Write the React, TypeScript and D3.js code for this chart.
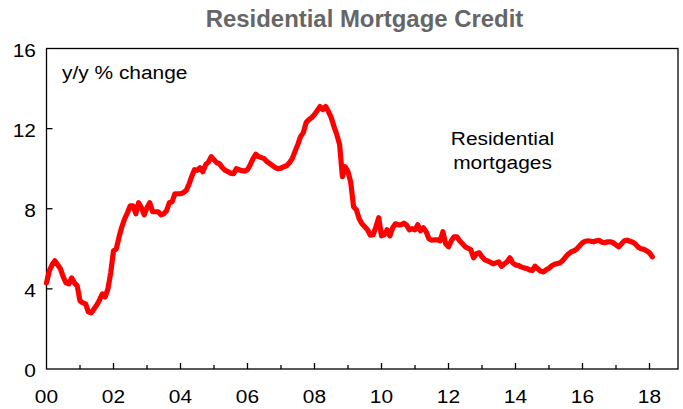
import React from "react";
import * as d3 from "d3";

const title = "Residential Mortgage Credit";
const yTicks = [0, 4, 8, 12, 16];
const xTickYears = [2000, 2002, 2004, 2006, 2008, 2010, 2012, 2014, 2016, 2018];
const startYear = 2000;
// monthly y/y % change, Jan 2000 onward
const values2000 = [4.3, 4.9, 5.2, 5.4, 5.2, 5.0, 4.6, 4.3, 4.25, 4.55, 4.3, 4.15];
const values2001 = [3.4, 3.3, 3.25, 2.85, 2.8, 3.0, 3.2, 3.45, 3.75, 3.6, 4.0, 4.8];
const values2002 = [5.9, 6.0, 6.6, 7.1, 7.5, 7.8, 8.15, 8.15, 7.75, 8.3, 8.05, 7.7];
const values2003 = [8.05, 8.3, 7.85, 7.85, 7.85, 7.7, 7.75, 7.9, 8.3, 8.35, 8.75, 8.75];
const values2004 = [8.75, 8.8, 8.9, 9.2, 9.6, 9.95, 9.92, 10.05, 9.85, 10.2, 10.33, 10.6];
const values2005 = [10.45, 10.3, 10.25, 10.05, 9.92, 9.85, 9.78, 9.75, 10.0, 9.95, 9.9, 9.88];
const values2006 = [9.95, 10.2, 10.5, 10.72, 10.6, 10.55, 10.5, 10.35, 10.25, 10.15, 10.05, 10.0];
const values2007 = [10.03, 10.1, 10.15, 10.3, 10.5, 10.85, 11.2, 11.6, 11.8, 12.3, 12.45, 12.55];
const values2008 = [12.7, 12.9, 13.1, 12.95, 13.1, 12.85, 12.55, 12.1, 11.7, 11.2, 9.6, 10.1];
const values2009 = [9.85, 9.3, 8.1, 7.95, 7.5, 7.25, 7.1, 6.95, 6.68, 6.7, 7.1, 7.55];
const values2010 = [6.65, 6.7, 6.95, 6.65, 7.05, 7.25, 7.2, 7.2, 7.28, 7.18, 6.95, 7.0];
const values2011 = [6.95, 7.2, 6.9, 7.05, 6.85, 6.5, 6.43, 6.45, 6.45, 6.4, 6.85, 6.25];
const values2012 = [6.1, 6.4, 6.6, 6.6, 6.4, 6.25, 6.1, 6.03, 5.95, 5.55, 5.75, 5.8];
const values2013 = [5.6, 5.45, 5.4, 5.33, 5.25, 5.3, 5.35, 5.13, 5.25, 5.35, 5.55, 5.3];
const values2014 = [5.2, 5.17, 5.1, 5.05, 5.02, 4.95, 4.92, 5.13, 5.0, 4.88, 4.85, 4.95];
const values2015 = [5.03, 5.15, 5.23, 5.27, 5.3, 5.43, 5.6, 5.75, 5.85, 5.9, 6.0, 6.15];
const values2016 = [6.3, 6.38, 6.4, 6.38, 6.35, 6.4, 6.42, 6.33, 6.3, 6.35, 6.35, 6.3];
const values2017 = [6.2, 6.1, 6.25, 6.4, 6.43, 6.38, 6.33, 6.23, 6.08, 6.0, 5.97, 5.9];
const values2018 = [5.8, 5.6];

const allValues = [
  ...values2000, ...values2001, ...values2002, ...values2003, ...values2004,
  ...values2005, ...values2006, ...values2007, ...values2008, ...values2009,
  ...values2010, ...values2011, ...values2012, ...values2013, ...values2014,
  ...values2015, ...values2016, ...values2017, ...values2018,
];
const data = allValues.map((v, i) => ({ t: startYear + i / 12, v }));

const W = 683;
const H = 409;
const L = 46.5, R = 678, T = 48.5, B = 369;
const FONT = "'Liberation Sans', Arial, sans-serif";
const SX = 1.1;

function Txt({ x, y, anchor = "start", size = 19, weight = "normal", fill = "#000", sx = SX, children }: any) {
  return (
    <g transform={`translate(${x},${y}) scale(${sx},1)`}>
      <text x={0} y={0} textAnchor={anchor} fontFamily={FONT} fontSize={size} fontWeight={weight} fill={fill}>{children}</text>
    </g>
  );
}

export default function App() {
  const x = d3.scaleLinear().domain([2000, 2018.85]).range([L, L + 18.85 * 33.5]);
  const y = d3.scaleLinear().domain([0, 16]).range([B, T]);
  const line = d3.line<{ t: number; v: number }>().x(d => x(d.t)).y(d => y(d.v));
  const years = d3.range(2001, 2019);
  return (
    <svg width={W} height={H} style={{ position: "absolute", left: 0, top: 0, background: "#fff" }}>
      <Txt x={364.5} y={27} anchor="middle" size={23} weight="bold" fill="#666666" sx={1.04}>{title}</Txt>
      <rect x={L} y={T} width={R - L} height={B - T} fill="none" stroke="#000" strokeWidth={1.3} />
      {years.map(yr => (
        <line key={yr} x1={x(yr)} x2={x(yr)} y1={B} y2={B - (yr % 2 === 0 ? 6 : 4)} stroke="#000" strokeWidth={1.3} />
      ))}
      {yTicks.filter(t => t > 0 && t < 16).map(t => (
        <line key={t} x1={L} x2={L + 6} y1={y(t)} y2={y(t)} stroke="#000" strokeWidth={1.3} />
      ))}
      {yTicks.map(t => (
        <Txt key={t} x={36} y={y(t) + 8} anchor="end">{t}</Txt>
      ))}
      {xTickYears.map(yr => (
        <Txt key={yr} x={x(yr)} y={403} anchor="middle">{String(yr % 100).padStart(2, "0")}</Txt>
      ))}
      <path d={line(data) || ""} fill="none" stroke="#ff0000" strokeWidth={5.2} strokeLinejoin="round" strokeLinecap="round" />
      <Txt x={62} y={79}>y/y % change</Txt>
      <Txt x={502.5} y={145} anchor="middle">Residential</Txt>
      <Txt x={502.5} y={169} anchor="middle">mortgages</Txt>
    </svg>
  );
}
